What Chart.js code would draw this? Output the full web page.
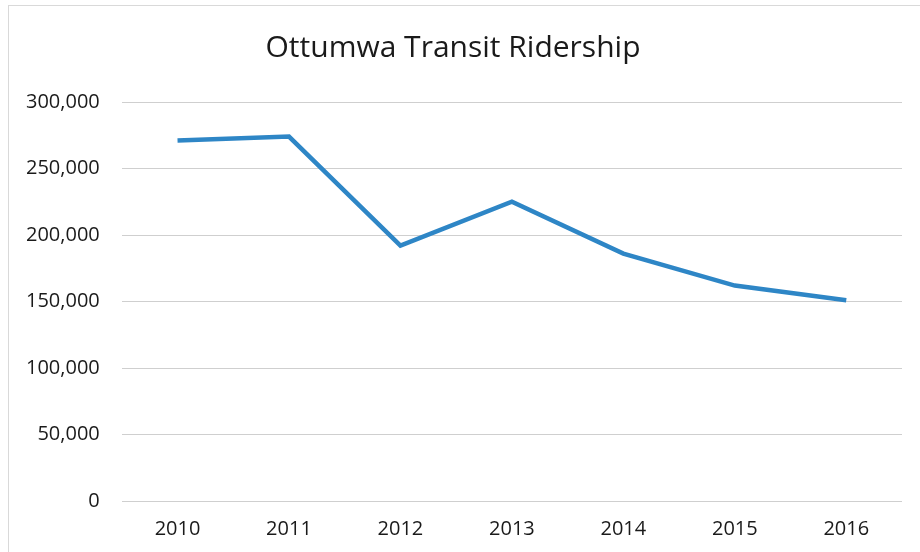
<!DOCTYPE html>
<html>
<head>
<meta charset="utf-8">
<script src="https://cdn.jsdelivr.net/npm/chart.js@4"></script>
<style>
  html, body { margin: 0; padding: 0; background: #fff; }
  #wrap { position: absolute; left: 0; top: 0; width: 920px; height: 552px; }
  #frame { position: absolute; left: 8px; top: 5px; width: 930px; height: 560px; border: 1px solid #d9d9d9; }
</style>
</head>
<body>
<div id="wrap">
  <div id="frame"></div>
  <canvas id="ridershipChart" width="920" height="552"></canvas>
</div>
<script>
const years = ["2010", "2011", "2012", "2013", "2014", "2015", "2016"];
const riders = [271000, 274000, 192000, 225000, 186000, 162000, 151000];

const ctx = document.getElementById("ridershipChart").getContext("2d");

new Chart(ctx, {
  type: "line",
  data: {
    labels: years,
    datasets: [
      {
        label: "Ridership",
        data: riders,
        borderColor: "#2e86c6",
        borderWidth: 4.5,
        pointRadius: 0,
        fill: false,
        tension: 0,
      },
    ],
  },
  options: {
    responsive: false,
    animation: false,
    layout: {
      padding: { left: 4, right: 18, top: 16, bottom: 3 },
    },
    plugins: {
      legend: { display: false },
      tooltip: { enabled: false },
      title: {
        display: true,
        text: "Ottumwa Transit Ridership",
        color: "#1a1a1a",
        font: { family: "Open Sans", size: 30, weight: "normal" },
        padding: { top: 14, bottom: 36 },
      },
    },
    scales: {
      x: {
        offset: true,
        grid: { display: false },
        border: { display: false },
        ticks: {
          color: "#1a1a1a",
          font: { family: "Open Sans", size: 20 },
          padding: 8,
        },
      },
      y: {
        min: 0,
        max: 300000,
        grid: { color: "#cfcfcf", lineWidth: 1, drawTicks: false },
        border: { display: false },
        ticks: {
          stepSize: 50000,
          color: "#1a1a1a",
          font: { family: "Open Sans", size: 20 },
          padding: 22,
          callback: function (value) {
            return value.toLocaleString("en-US");
          },
        },
      },
    },
  },
});
</script>
</body>
</html>
